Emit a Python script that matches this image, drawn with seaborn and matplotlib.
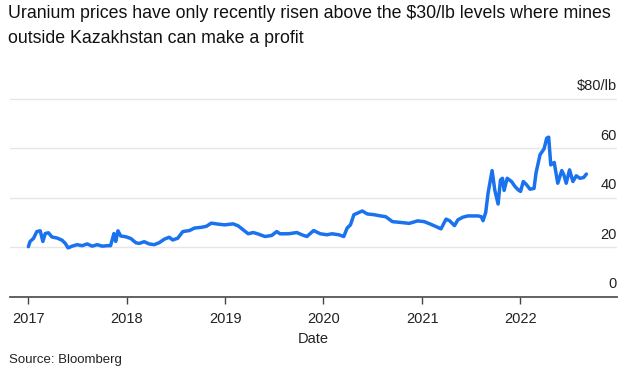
import pandas as pd
import matplotlib
matplotlib.use("Agg")
import matplotlib.pyplot as plt
import matplotlib.dates as mdates
import seaborn as sns

# data (decimal years since 2017-01-01, $/lb)
years_since_2017 = [
    0.000, 0.017, 0.051, 0.086, 0.120, 0.147, 0.171, 0.204, 0.239, 0.290,
    0.342, 0.375, 0.403, 0.444, 0.495, 0.546, 0.597, 0.648, 0.699, 0.751,
    0.802, 0.835, 0.869, 0.887, 0.910, 0.938, 0.989, 1.040, 1.091, 1.125,
    1.176, 1.227, 1.278, 1.329, 1.380, 1.431, 1.466, 1.517, 1.569, 1.636,
    1.687, 1.756, 1.807, 1.858, 1.926, 1.994, 2.080, 2.131, 2.182, 2.233,
    2.284, 2.335, 2.403, 2.471, 2.523, 2.556, 2.642, 2.727, 2.778, 2.829,
    2.898, 2.965, 3.034, 3.085, 3.153, 3.204, 3.238, 3.272, 3.307, 3.358,
    3.392, 3.443, 3.511, 3.579, 3.630, 3.698, 3.800, 3.869, 3.954, 4.022,
    4.090, 4.141, 4.192, 4.243, 4.278, 4.329, 4.363, 4.414, 4.465, 4.516,
    4.568, 4.601, 4.619, 4.646, 4.670, 4.711, 4.738, 4.772, 4.796, 4.816,
    4.833, 4.864, 4.908, 4.943, 4.977, 5.000, 5.028, 5.061, 5.096, 5.137,
    5.157, 5.198, 5.239, 5.266, 5.286, 5.307, 5.342, 5.378, 5.419, 5.440,
    5.464, 5.498, 5.532, 5.566, 5.603, 5.641, 5.669,
]
price = [
    20.2, 22.3, 23.5, 26.3, 26.6, 22.3, 25.5, 25.8, 24.1, 23.7,
    22.8, 21.5, 19.7, 20.4, 21.0, 20.6, 21.3, 20.4, 21.0, 20.4,
    20.6, 20.6, 25.5, 22.3, 26.6, 24.5, 24.2, 23.5, 21.8, 21.5,
    22.2, 21.3, 21.0, 21.8, 23.2, 24.0, 22.9, 23.6, 26.3, 26.7,
    27.7, 28.0, 28.4, 29.7, 29.3, 29.0, 29.4, 28.6, 27.0, 25.4,
    25.9, 25.3, 24.3, 24.7, 26.3, 25.4, 25.4, 25.9, 25.0, 24.3,
    26.7, 25.4, 25.0, 25.4, 25.0, 24.3, 27.7, 29.0, 33.1, 34.0,
    34.6, 33.4, 33.1, 32.6, 32.3, 30.3, 29.9, 29.6, 30.6, 30.3,
    29.2, 28.3, 27.4, 31.3, 30.7, 28.7, 31.0, 32.1, 32.6, 32.6,
    32.6, 32.3, 30.7, 34.0, 41.8, 50.9, 43.1, 37.4, 47.1, 47.8,
    42.9, 47.8, 46.5, 44.5, 43.1, 42.5, 46.5, 45.2, 43.4, 43.7,
    49.9, 57.3, 59.7, 64.0, 64.4, 53.2, 54.2, 45.8, 50.9, 49.2,
    45.8, 51.2, 46.5, 48.8, 47.8, 48.1, 49.5,
]
y_ticks = [0, 20, 40, 60, 80]
y_tick_labels = ["0", "20", "40", "60", "$80/lb"]
x_years = [2017, 2018, 2019, 2020, 2021, 2022]

base = pd.Timestamp("2017-01-01")
df = pd.DataFrame({
    "Date": base + pd.to_timedelta(pd.Series(years_since_2017) * 365.25, unit="D"),
    "Price": price,
})

sns.set_style("white")
plt.rcParams["font.family"] = ["Liberation Sans", "DejaVu Sans"]

fig = plt.figure(figsize=(6.36, 3.77), dpi=100)
ax = fig.add_axes([10 / 636, 80.3 / 377, 607 / 636, 208.1 / 377])

sns.lineplot(data=df, x="Date", y="Price", ax=ax, color="#1a72ef", linewidth=2.5)

ax.set_ylim(0, 84)
ax.set_xlim(base + pd.Timedelta(days=-0.187 * 365.25), base + pd.Timedelta(days=5.98 * 365.25))

# gridlines + right side labels sitting above them
for v, lab in zip(y_ticks, y_tick_labels):
    if v > 0:
        ax.axhline(v, color="#e6e6e6", linewidth=1, zorder=0)
    ax.annotate(lab, xy=(1, v), xycoords=ax.get_yaxis_transform(),
                xytext=(0, 6), textcoords="offset points",
                ha="right", va="baseline", fontsize=10.5, color="#222222")
ax.set_yticks([])
ax.set_ylabel("")

ax.set_xticks([pd.Timestamp(f"{y}-01-01") for y in x_years])
ax.xaxis.set_major_formatter(mdates.DateFormatter("%Y"))
ax.tick_params(axis="x", length=5, width=1, color="#444444", pad=6,
               labelsize=10.5, labelcolor="#222222", bottom=True)
ax.set_xlabel("Date", fontsize=10.5, color="#222222", labelpad=4)

for s in ["top", "left", "right"]:
    ax.spines[s].set_visible(False)
ax.spines["bottom"].set_color("#555555")
ax.spines["bottom"].set_linewidth(1.3)

fig.text(8 / 636, 1 - 5 / 377,
         "Uranium prices have only recently risen above the $30/lb levels where mines\n"
         "outside Kazakhstan can make a profit",
         ha="left", va="top", fontsize=12.8, color="#111111", linespacing=1.6)
fig.text(9 / 636, 1 - 360 / 377, "Source: Bloomberg", ha="left", va="center",
         fontsize=9.5, color="#222222")

plt.savefig("out.png", dpi=100)
